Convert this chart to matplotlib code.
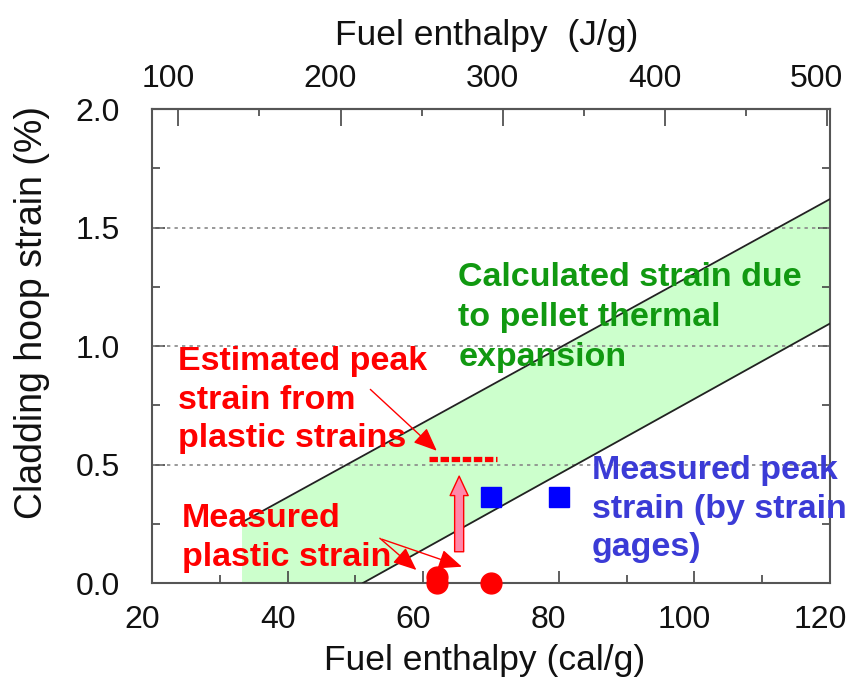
import matplotlib.pyplot as plt
import matplotlib.ticker as mticker
from matplotlib.transforms import ScaledTranslation
import numpy as np

plt.rcParams['font.family'] = ['Liberation Sans', 'DejaVu Sans']

# band of calculated strain (pellet thermal expansion), cal/g vs %
upper_x = [33.5, 120]
upper_y = [0.26, 1.62]
lower_x = [51.1, 120]
lower_y = [0.0, 1.095]
band_x = [33.2, 51.1, 120]

# measurements
plastic_x = [62, 62, 70]
plastic_y = [0.0, 0.025, 0.0]
peak_x = [70, 80]
peak_y = [0.365, 0.365]
est_x = [60.9, 70.9]
est_y = [0.522, 0.522]

cal_ticks = [20, 40, 60, 80, 100, 120]
j_ticks = [100, 200, 300, 400, 500]
CAL2J = 4.184

fig = plt.figure(figsize=(8.57, 6.86), dpi=100)
ax = fig.add_axes([0.1774, 0.1501, 0.7911, 0.691])

ux = np.array(upper_x)
uy = np.array(upper_y)
slope_u = (uy[1] - uy[0]) / (ux[1] - ux[0])
slope_l = (lower_y[1] - lower_y[0]) / (lower_x[1] - lower_x[0])
bx = np.array(band_x)
band_top = uy[0] + slope_u * (bx - ux[0])
band_bot = np.clip(lower_y[0] + slope_l * (bx - lower_x[0]), 0, None)
ax.fill_between(bx, band_bot, band_top, color='#ccffcc', lw=0, zorder=1)

for yv in [0.5, 1.0, 1.5]:
    ax.axhline(yv, color='#888888', ls=(0, (2, 2.5)), lw=1.2, zorder=2)

ax.plot(upper_x, upper_y, color='#222222', lw=1.3, zorder=3)
ax.plot(lower_x, lower_y, color='#222222', lw=1.3, zorder=3)

ax.plot(est_x, est_y, color='red', lw=3.8, ls=(0, (1.6, 0.5)), zorder=4)
ax.plot(peak_x, peak_y, 's', color='blue', ms=14.5, zorder=5)
ax.plot(plastic_x, plastic_y, 'o', color='red', ms=15, zorder=5, clip_on=False)

# pink arrow
ax.annotate('', xy=(65.3, 0.451), xytext=(65.3, 0.132),
            arrowprops=dict(arrowstyle='simple,head_width=1.3,head_length=1.4,tail_width=0.65',
                            fc='#ff88aa', ec='red', lw=1, mutation_scale=10, shrinkA=0, shrinkB=0),
            zorder=4)

arr = dict(arrowstyle='-|>,head_length=0.9,head_width=0.38', color='red', lw=1,
           mutation_scale=16, shrinkA=0, shrinkB=0)
ax.annotate('', xy=(62.0, 0.558), xytext=(52.2, 0.817), arrowprops=arr, zorder=6)
ax.annotate('', xy=(59.0, 0.055), xytext=(53.6, 0.189), arrowprops=arr, zorder=6)
ax.annotate('', xy=(65.7, 0.069), xytext=(53.9, 0.185), arrowprops=arr, zorder=6)

note = dict(fontsize=24.5, fontweight='bold', va='top', ha='left', linespacing=1.32, zorder=7)
ax.text(23.8, 1.0, 'Estimated peak\nstrain from\nplastic strains', color='red', **note)
ax.text(24.4, 0.338, 'Measured\nplastic strain', color='red', **note)
ax.text(65.2, 1.354, 'Calculated strain due\nto pellet thermal\nexpansion', color='#119911',
        **dict(note, linespacing=1.38))
ax.text(84.9, 0.54, 'Measured peak\nstrain (by strain\ngages)', color='#3b3bd6', **note)

ax.set_xlim(20, 120)
ax.set_ylim(0, 2.0)
ax.xaxis.set_major_locator(mticker.FixedLocator(cal_ticks))
ax.xaxis.set_minor_locator(mticker.MultipleLocator(10))
ax.yaxis.set_major_locator(mticker.MultipleLocator(0.5))
ax.yaxis.set_minor_locator(mticker.MultipleLocator(0.25))
ax.yaxis.set_major_formatter(mticker.FormatStrFormatter('%.1f'))
ax.tick_params(which='both', direction='in', right=True, color='#444444',
               labelsize=23, labelcolor='#111111')
ax.tick_params(axis='x', pad=16)
ax.tick_params(axis='y', pad=23)
ax.tick_params(which='major', length=9, width=1.2)
ax.tick_params(which='minor', length=6, width=1.2)
for s in ax.spines.values():
    s.set_color('#555555')
    s.set_linewidth(1.5)

ax.set_xlabel('Fuel enthalpy (cal/g)', fontsize=25.5, color='#111111')
ax.set_ylabel('Cladding hoop strain (%)', fontsize=27, color='#111111')
ax.xaxis.set_label_coords(0.491, -0.128)
ax.yaxis.set_label_coords(-0.15, 0.57)

sec = ax.secondary_xaxis('top', functions=(lambda x: x * CAL2J, lambda j: j / CAL2J))
sec.xaxis.set_major_locator(mticker.FixedLocator(j_ticks))
sec.xaxis.set_minor_locator(mticker.FixedLocator([150, 250, 350, 450]))
sec.tick_params(which='both', direction='in', color='#444444', labelsize=23,
                labelcolor='#111111', pad=11)
sec.tick_params(which='major', length=12, width=1.2)
sec.tick_params(which='minor', length=5, width=1.2)
sec.spines['top'].set_color('#555555')
sec.spines['top'].set_linewidth(1.5)
sec.set_xlabel('Fuel enthalpy  (J/g)', fontsize=25.5, color='#111111')
sec.xaxis.set_label_coords(0.493, 1.136, transform=ax.transAxes)

# tick labels in the original sit a little left of their ticks
shift = ScaledTranslation(-10 / 100, 0, fig.dpi_scale_trans)
for lbl in ax.get_xticklabels() + sec.get_xticklabels():
    lbl.set_transform(lbl.get_transform() + shift)

fig.savefig('out.png', dpi=100)
